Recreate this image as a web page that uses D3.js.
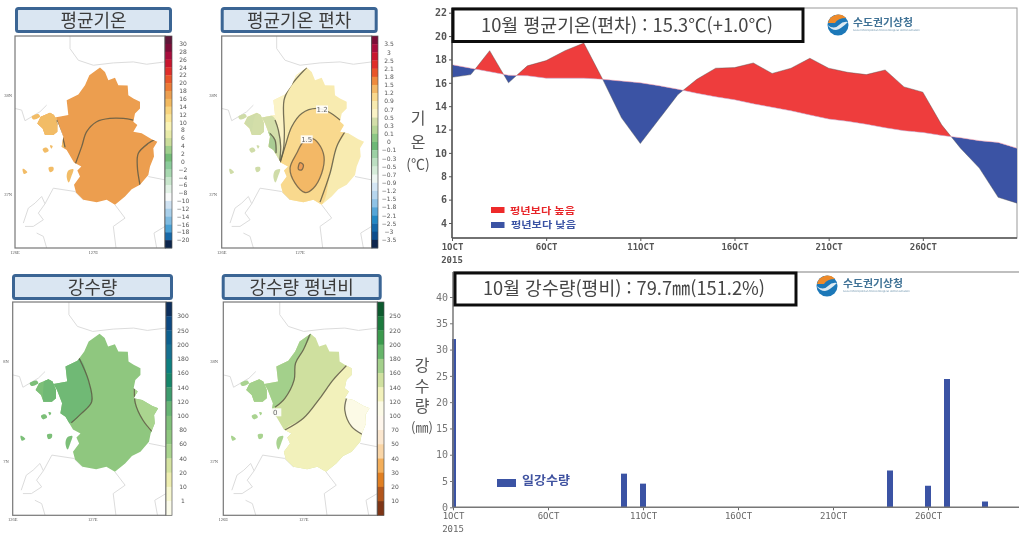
<!DOCTYPE html>
<html lang="ko"><head><meta charset="utf-8">
<script src="https://cdn.jsdelivr.net/npm/d3@7"></script>
<style>
html,body{margin:0;padding:0;background:#fff;overflow:hidden}
svg{display:block}
.ko{font-family:"Noto Sans CJK KR","Noto Sans",sans-serif}
.tick text,.mono{font-family:"DejaVu Sans Mono",monospace}
</style></head><body>
<svg id="c" width="1019" height="534"></svg>
<script>
// ---------- daily data ----------
const days = d3.range(1, 32);
const tempObserved = [16.47,16.7,18.75,16.0,17.45,17.9,18.75,19.4,16.3,13.0,10.8,12.9,15.0,16.3,17.25,17.3,17.7,16.8,17.25,18.1,17.25,16.9,16.7,17.1,15.65,15.2,12.4,10.4,8.7,6.2,5.7];
const tempNormal = [17.55,17.25,16.95,16.65,16.6,16.4,16.4,16.4,16.3,16.15,16.0,15.75,15.45,15.1,14.8,14.55,14.2,13.9,13.6,13.25,12.9,12.7,12.45,12.15,11.9,11.75,11.5,11.3,11.05,10.9,10.4];
const rainDays = [1,10,11,24,26,27,29];
const rainValues = [32,6.4,4.5,7,4.1,24.4,1.1];
const tempTicks = [4,6,8,10,12,14,16,18,20,22];
const rainTicks = [0,5,10,15,20,25,30,35,40];
const dateTicks = [1,6,11,16,21,26];
const dateLabels = ["1OCT","6OCT","11OCT","16OCT","21OCT","26OCT"];

// ---------- map geography, in map-grid units ----------
const mainland = [[300,202],[315,215],[325,240],[345,233],[355,255],[383,256],[385,285],[400,295],[420,305],[420,325],[405,340],[400,365],[412,375],[400,395],[425,400],[455,418],[472,425],[460,445],[462,470],[450,500],[445,525],[420,555],[395,568],[375,590],[345,615],[320,600],[290,607],[250,600],[228,578],[222,555],[240,530],[232,512],[244,500],[222,488],[200,450],[185,440],[190,410],[175,370],[165,352],[205,345],[200,300],[235,283],[255,255],[268,225]];
const ganghwa = [[122,350],[150,338],[162,345],[172,370],[172,395],[160,405],[135,405],[128,385],[112,370],[118,358]];
const islets = [
 [[95,350],[115,342],[120,350],[100,358]],
 [[128,447],[140,443],[146,452],[134,458]],
 [[150,436],[158,438],[154,446]],
 [[68,507],[76,510],[82,517],[72,522]],
 [[146,503],[160,502],[160,512],[150,517]],
 [[205,512],[220,508],[214,530],[206,548],[200,530]]
];
const borders = [
 [[210,107],[210,145],[235,180],[280,195],[340,188],[400,185],[440,192],[495,185]],
 [[45,325],[65,330],[75,362],[120,335],[140,315]],
 [[70,670],[85,625],[105,610],[125,590],[135,612],[115,640],[130,660],[100,680],[75,680]],
 [[135,612],[160,565],[225,575],[250,600]],
 [[110,700],[130,710],[140,745]],
 [[345,615],[375,655],[340,680],[348,745]],
 [[445,530],[495,540]],
 [[495,680],[462,700],[470,745]]
];
// contour lines and band polygons for every panel
const panels = [
 {title:"평균기온", base:"#EC9E4F", isle:"#F2BC66",
  frame:[15,165,36,248], bar:172, box:[15,172,7,33], lon:["126E","127E"], lat:["38N","37N"], latX:8,
  bands:[{c:"#F2BC66",p:[[100,300],[163,340],[172,360],[188,420],[194,445],[100,460]]}],
  lines:[[[400,360],[370,355],[330,355],[290,365],[260,395],[245,440],[225,495],[205,548]],[[465,418],[445,430],[415,460],[412,500],[420,555]],[[170,360],[190,420],[195,442]]],
  labels:["30","28","26","24","22","20","18","16","14","12","10","8","6","4","2","0","−2","−4","−6","−8","−10","−12","−14","−16","−18","−20"],
  colors:["#5E1338","#7B1038","#A8103C","#C9152F","#E02E2A","#E8552B","#EC7A35","#EC9E4F","#F2B95F","#F8D47E","#FAE698","#FBF4B4","#E8EBA8","#CBDD9A","#9FCF8C","#73BB77","#8ACB9A","#A8D8B0","#C8E6CC","#E2F2E6","#F8FAFA","#CFE2F2","#A8CFEA","#7FBBE0","#4AA0D4","#1567A8","#08254E"]},
 {title:"평균기온 편차", base:"#F8EBB0", isle:"#CFDCA8",
  frame:[221.7,371.7,36,248], bar:378, box:[220.7,377.7,7,33], lon:["126E","127E"], lat:["38N","37N"], latX:213,
  bands:[
   {c:"#FBF3C6",p:[[300,200],[250,260],[232,300],[233,400],[230,450],[217,495],[190,495],[190,300]]},
   {c:"#D3DEA9",p:[[200,350],[215,390],[222,440],[218,490],[150,490],[150,340]]},
   {c:"#A9CC93",p:[[185,395],[205,420],[208,460],[190,450]]},
   {c:"#F9D98E",p:[[400,360],[365,335],[330,325],[285,340],[255,380],[235,440],[220,490],[200,620],[340,620],[370,520],[390,440],[415,395]]},
   {c:"#F3B866",p:[[315,415],[335,430],[352,470],[345,520],[320,565],[295,578],[265,550],[250,505],[270,460],[290,425]]},
   {c:"#EE9E56",p:[[280,488],[290,495],[285,510],[275,508]]}],
  lines:[[[300,202],[250,260],[232,300],[233,400],[230,450],[217,495]],[[205,360],[215,390],[222,440],[218,490]],[[190,400],[205,420],[208,460]],[[400,360],[365,335],[330,325],[285,340],[255,380],[235,440],[220,490]],[[415,395],[390,440],[370,520],[340,607]]],
  closed:[[[315,415],[335,430],[352,470],[345,520],[320,565],[295,578],[265,550],[250,505],[270,460],[290,425]],[[280,488],[290,495],[285,510],[275,508]]],
  tags:[{t:"1.2",at:[346,328]},{t:"1.5",at:[300,418]}],
  labels:["3.5","3","2.5","2.1","1.8","1.5","1.2","0.9","0.7","0.5","0.3","0.1","0","−0.1","−0.3","−0.5","−0.7","−0.9","−1.2","−1.5","−1.8","−2.1","−2.5","−3","−3.5"],
  colors:["#7B1038","#A8103C","#C9152F","#E02E2A","#E8552B","#EE8A3E","#F3B866","#F9D98E","#F8EBB0","#FBF3C6","#D3DEA9","#B5D596","#8CC785","#6DB877","#9CD0A4","#BCDFC2","#D5ECD9","#EDF6F2","#D4E6F4","#B6D6EE","#8FC3E6","#55A6D8","#2488C4","#1567A8","#0F4D8C","#08254E"]},
 {title:"강수량", base:"#8FC77F", isle:"#7BBF78",
  frame:[12.7,166,302,515.3], bar:172, box:[12,173,274,300], lon:["126E","127E"], lat:["8N","7N"], latX:6,
  bands:[
   {c:"#6FB974",p:[[240,275],[267,340],[277,405],[247,440],[217,468],[150,480],[150,300],[200,290]]},
   {c:"#AAD58F",p:[[402,365],[405,410],[427,460],[456,497],[490,500],[490,380]]}],
  lines:[[[240,275],[267,340],[277,405],[247,440],[217,468]],[[402,365],[405,410],[427,460],[456,497]]],
  labels:["300","250","200","180","160","140","120","100","80","60","40","20","10","1"],
  colors:["#0B2F5C","#0E4A82","#10608F","#146F90","#0F7F80","#17866A","#3E9B6E","#66B473","#7FC07A","#8FC77F","#AAD58F","#D5E3A0","#EEEEB0","#F7F7D0","#FBFBEA"]},
 {title:"강수량 평년비", base:"#CFE09F", isle:"#A9D390",
  frame:[223.3,377.3,302,515.3], bar:384, box:[221.7,381.7,274,300], lon:["126E","127E"], lat:["38N","37N"], latX:214,
  bands:[
   {c:"#A3D08B",p:[[300,198],[279,250],[256,290],[252,340],[225,395],[196,422],[100,470],[100,250]]},
   {c:"#F2F1BB",p:[[405,297],[366,340],[327,395],[279,455],[225,490],[190,640],[490,640],[490,297]]},
   {c:"#FCFAE6",p:[[405,395],[400,430],[420,480],[451,503],[490,503],[490,395]]}],
  lines:[[[300,198],[279,250],[256,290],[252,340],[225,395],[196,422]],[[405,297],[366,340],[327,395],[279,455],[225,490]],[[405,395],[400,430],[420,480],[451,503]]],
  tags:[{t:"0",at:[197,437]}],
  labels:["250","220","200","180","160","140","120","100","70","50","40","30","20","10"],
  colors:["#0B5A2E","#1A7A3C","#3A9A4E","#66B56A","#A3D08B","#CFE09F","#F2F1BB","#FCFAE6","#FEF6EC","#FBE7CF","#F9D5A6","#F3AE5A","#E07F22","#B2561A","#7E3512"]}
];

const svg = d3.select("#c");
const defs = svg.append("defs");
function blur(id,s){defs.append("filter").attr("id",id).attr("x","-2%").attr("y","-2%").attr("width","104%").attr("height","104%").append("feGaussianBlur").attr("stdDeviation",s);}
blur("soft",0.45); blur("softer",0.65);
const root = svg.append("g").attr("filter","url(#soft)");
const mapsRoot = svg.append("g").attr("filter","url(#softer)");

// ---------- maps ----------
panels.forEach((p,i)=>{
  const [x0,x1,y0,y1] = p.frame;
  const sx = d3.scaleLinear().domain([45,495]).range([x0,x1]);
  const sy = d3.scaleLinear().domain([107,745]).range([y0,y1]);
  const line = d3.line().x(d=>sx(d[0])).y(d=>sy(d[1]));
  const smooth = d3.line().x(d=>sx(d[0])).y(d=>sy(d[1])).curve(d3.curveCatmullRom);
  const smoothC = d3.line().x(d=>sx(d[0])).y(d=>sy(d[1])).curve(d3.curveCatmullRomClosed);
  const g = mapsRoot.append("g");
  // title
  g.append("rect").attr("x",p.box[0]+1.5).attr("y",p.box[2]+1.5).attr("width",p.box[1]-p.box[0]-3).attr("height",p.box[3]-p.box[2]-3)
   .attr("rx",2).attr("fill","#DAE6F2").attr("stroke","#3A6594").attr("stroke-width",3);
  g.append("text").attr("class","ko").attr("x",(p.box[0]+p.box[1])/2).attr("y",(p.box[2]+p.box[3])/2+6.5)
   .attr("text-anchor","middle").attr("font-size",18).attr("fill","#3b3b3b").text(p.title);
  // frame
  g.append("rect").attr("x",x0).attr("y",y0).attr("width",x1-x0).attr("height",y1-y0).attr("fill","#fff");
  const cid = "clip"+i;
  const cp = defs.append("clipPath").attr("id",cid);
  cp.append("rect").attr("x",x0).attr("y",y0).attr("width",x1-x0).attr("height",y1-y0);
  g.append("g").attr("clip-path",`url(#${cid})`).selectAll("path").data(borders).join("path")
   .attr("d",line).attr("fill","none").attr("stroke","#dcdcdc").attr("stroke-width",1);
  // land
  const lid = "land"+i;
  const lp = defs.append("clipPath").attr("id",lid);
  lp.append("path").attr("d",line(mainland)+"Z");
  lp.append("path").attr("d",line(ganghwa)+"Z");
  const land = g.append("g").attr("clip-path",`url(#${lid})`);
  land.append("rect").attr("x",x0).attr("y",y0).attr("width",x1-x0).attr("height",y1-y0).attr("fill",p.base);
  land.append("path").attr("d",line(ganghwa)+"Z").attr("fill",p.isle);
  land.selectAll("path.band").data(p.bands).join("path").attr("class","band")
   .attr("d",d=>smoothC(d.p)).attr("fill",d=>d.c);
  land.selectAll("path.ct").data(p.lines).join("path").attr("class","ct").attr("d",smooth)
   .attr("fill","none").attr("stroke","#5f5a45").attr("stroke-width",1.3).attr("opacity",.85);
  land.selectAll("path.cc").data(p.closed||[]).join("path").attr("class","cc").attr("d",smoothC)
   .attr("fill","none").attr("stroke","#6f6048").attr("stroke-width",1.3).attr("opacity",.85);
  g.selectAll("path.isl").data(islets).join("path").attr("class","isl").attr("d",d=>smoothC(d)).attr("fill",p.isle);
  (p.tags||[]).forEach(t=>{
    g.append("rect").attr("x",sx(t.at[0])-6).attr("y",sy(t.at[1])-4).attr("width",12).attr("height",8).attr("fill","#fff").attr("opacity",.9);
    g.append("text").attr("x",sx(t.at[0])).attr("y",sy(t.at[1])+2.5).attr("text-anchor","middle").attr("font-size",7)
     .attr("font-family","DejaVu Sans").attr("fill","#666").text(t.t);
  });
  g.append("rect").attr("x",x0).attr("y",y0).attr("width",x1-x0).attr("height",y1-y0).attr("fill","none").attr("stroke","#777").attr("stroke-width",1.2);
  // colour bar
  const cb = d3.scaleBand().domain(d3.range(p.colors.length)).range([y0,y1]);
  g.selectAll("rect.cell").data(p.colors).join("rect").attr("class","cell").attr("x",x1).attr("width",p.bar-x1)
   .attr("y",(d,j)=>cb(j)).attr("height",cb.bandwidth()+.3).attr("fill",d=>d);
  g.append("rect").attr("x",x1).attr("y",y0).attr("width",p.bar-x1).attr("height",y1-y0).attr("fill","none").attr("stroke","#555").attr("stroke-width",.7);
  g.selectAll("text.cbl").data(p.labels).join("text").attr("class","cbl").attr("x",p.bar+11).attr("y",(d,j)=>cb(j+1)+2.2)
   .attr("text-anchor","middle").attr("font-size",6).attr("font-family","DejaVu Sans").attr("fill","#555").text(d=>d);
  // lon / lat labels
  const tiny = {"font-size":4.5,"font-family":"Liberation Serif","fill":"#555"};
  const put = (x,y,t,a)=>{const s=g.append("text").attr("x",x).attr("y",y).attr("text-anchor",a).text(t);
    Object.entries(tiny).forEach(([k,v])=>s.attr(k,v));};
  put(x0,y1+6,p.lon[0],"middle");
  put(sx(280),y1+6,p.lon[1],"middle");
  put(p.latX,sy(285)+1.5,p.lat[0],"middle");
  put(p.latX,sy(585)+1.5,p.lat[1],"middle");
});

// ---------- temperature chart ----------
const tX = d3.scaleLinear().domain([1,31]).range([452,1017]);
const tY = d3.scaleLinear().domain([22,4]).range([12.7,223]);
const tTop = 8, tBot = 238;
const t = root.append("g");
const between = d3.area().x((d,i)=>tX(days[i])).y0((d,i)=>tY(tempNormal[i])).y1((d,i)=>tY(tempObserved[i]));
const above = d3.area().x((d,i)=>tX(days[i])).y0(tTop).y1((d,i)=>tY(tempNormal[i]));
const below = d3.area().x((d,i)=>tX(days[i])).y0(tBot).y1((d,i)=>tY(tempNormal[i]));
defs.append("clipPath").attr("id","abv").append("path").attr("d",above(days));
defs.append("clipPath").attr("id","blw").append("path").attr("d",below(days));
t.append("rect").attr("x",452).attr("y",tTop).attr("width",565).attr("height",tBot-tTop).attr("fill","none").attr("stroke","#999").attr("stroke-width",1);
t.append("path").attr("d",between(days)).attr("fill","#EE3D3C").attr("clip-path","url(#abv)");
t.append("path").attr("d",between(days)).attr("fill","#3B53A4").attr("clip-path","url(#blw)");
t.append("path").attr("d",d3.line().x((d,i)=>tX(days[i])).y((d,i)=>tY(tempObserved[i]))(days)).attr("fill","none").attr("stroke","#555").attr("stroke-width",.7).attr("opacity",.6);
t.append("path").attr("d",d3.line().x((d,i)=>tX(days[i])).y((d,i)=>tY(tempNormal[i]))(days)).attr("fill","none").attr("stroke","#E8A0B8").attr("stroke-width",.7).attr("opacity",.7);

function styleAxis(g,color,weight,size){
  g.select(".domain").remove();
  g.selectAll("line").attr("stroke",color).attr("stroke-width",1);
  g.selectAll("text").attr("fill",color).attr("font-size",size).attr("font-weight",weight).attr("font-family","DejaVu Sans Mono");
}
const tAxisY = t.append("g").attr("transform","translate(452,0)").call(d3.axisLeft(tY).tickValues(tempTicks).tickSize(3).tickPadding(2).tickFormat(d3.format("d")));
styleAxis(tAxisY,"#555","bold",10);
const tAxisX = t.append("g").attr("transform",`translate(0,${tBot})`).call(d3.axisBottom(tX).tickValues(dateTicks).tickSize(3).tickPadding(3).tickFormat((d,i)=>dateLabels[i]));
styleAxis(tAxisX,"#555","bold",9);
t.append("line").attr("x1",452).attr("x2",452).attr("y1",tTop).attr("y2",tBot).attr("stroke","#555").attr("stroke-width",1.5);
t.append("line").attr("x1",452).attr("x2",1017).attr("y1",tBot).attr("y2",tBot).attr("stroke","#555").attr("stroke-width",1.5);
t.append("text").attr("class","mono").attr("x",452).attr("y",263).attr("text-anchor","middle").attr("font-size",9).attr("font-weight","bold").attr("fill","#555").text("2015");

function titleBox(par,x0,x1,y0,y1,txt,tx,ty,len){
  par.append("rect").attr("x",x0).attr("y",y0).attr("width",x1-x0).attr("height",y1-y0).attr("fill","#fff").attr("stroke","#111").attr("stroke-width",3);
  par.append("text").attr("class","ko").attr("x",tx).attr("y",ty).attr("font-size",18).attr("fill","#444").attr("textLength",len).attr("lengthAdjust","spacingAndGlyphs").text(txt);
}
titleBox(t,453,803,9,41.5,"10월 평균기온(편차) : 15.3℃(+1.0℃)",481,32,292);
function vert(par,x,ys,chars,size){
  par.selectAll(null).data(chars).join("text").attr("class","ko").attr("x",x).attr("y",(d,i)=>ys[i]).attr("text-anchor","middle")
   .attr("font-size",(d,i)=>size[i]).attr("fill","#555").text(d=>d);
}
vert(t,418,[124,148,169],["기","온","(℃)"],[16,16,14]);
// legend
t.append("rect").attr("x",491).attr("y",207).attr("width",13.5).attr("height",6).attr("fill","#EE2A2A");
t.append("rect").attr("x",491).attr("y",222).attr("width",13.5).attr("height",6).attr("fill","#3B53A4");
t.append("text").attr("class","ko").attr("x",510).attr("y",214).attr("font-size",9.5).attr("font-weight","700").attr("fill","#E8262A").attr("textLength",65).attr("lengthAdjust","spacingAndGlyphs").text("평년보다 높음");
t.append("text").attr("class","ko").attr("x",511).attr("y",228).attr("font-size",9.5).attr("font-weight","700").attr("fill","#3B53A4").attr("textLength",65).attr("lengthAdjust","spacingAndGlyphs").text("평년보다 낮음");

// ---------- rainfall chart ----------
const rX = d3.scaleLinear().domain([1,31]).range([453,1023]);
const rY = d3.scaleLinear().domain([0,40]).range([507.3,297]);
const r = root.append("g");
defs.append("clipPath").attr("id","rplot").append("rect").attr("x",452).attr("y",272).attr("width",567).attr("height",236);
r.append("g").attr("clip-path","url(#rplot)").selectAll("rect").data(rainDays).join("rect")
 .attr("x",d=>rX(d)-3).attr("width",6).attr("y",(d,i)=>rY(rainValues[i])).attr("height",(d,i)=>rY(0)-rY(rainValues[i])).attr("fill","#3B53A4");
const rAxisY = r.append("g").attr("transform","translate(453,0)").call(d3.axisLeft(rY).tickValues(rainTicks).tickSize(3).tickPadding(2).tickFormat(d3.format("d")));
styleAxis(rAxisY,"#777","normal",10);
const rAxisX = r.append("g").attr("transform","translate(0,507.3)").call(d3.axisBottom(rX).tickValues(dateTicks).tickSize(3).tickPadding(2).tickFormat((d,i)=>dateLabels[i]));
styleAxis(rAxisX,"#666","normal",9);
r.append("line").attr("x1",453).attr("x2",453).attr("y1",272).attr("y2",507.3).attr("stroke","#777").attr("stroke-width",1.5);
r.append("line").attr("x1",453).attr("x2",1019).attr("y1",507.3).attr("y2",507.3).attr("stroke","#777").attr("stroke-width",1.5);
r.append("line").attr("x1",453).attr("x2",1019).attr("y1",272).attr("y2",272).attr("stroke","#aaa").attr("stroke-width",1.5);
r.append("text").attr("class","mono").attr("x",453).attr("y",532).attr("text-anchor","middle").attr("font-size",9).attr("fill","#666").text("2015");
titleBox(r,455,796,273,305,"10월 강수량(평비) : 79.7㎜(151.2%)",483,295,282);
vert(r,422,[371,392,412,432],["강","수","량","(㎜)"],[16,16,16,13]);
r.append("rect").attr("x",497).attr("y",479).attr("width",19).attr("height",8).attr("fill","#3B53A4");
r.append("text").attr("class","ko").attr("x",522).attr("y",485).attr("font-size",12).attr("font-weight","700").attr("fill","#3F52A0").attr("textLength",48).attr("lengthAdjust","spacingAndGlyphs").text("일강수량");

// ---------- logos ----------
function logo(par,cx,cy,tx,ty){
  const g = par.append("g");
  g.append("circle").attr("cx",cx).attr("cy",cy).attr("r",10.5).attr("fill","#1E78B8");
  g.append("path").attr("d",`M${cx-10} ${cy-2} A10.5 10.5 0 0 1 ${cx+8} ${cy-7} Q${cx} ${cy-7} ${cx-3} ${cy-2} Z`).attr("fill","#EE8A2A");
  g.append("path").attr("d",`M${cx-10.5} ${cy} Q${cx-4} ${cy+5} ${cx+1} ${cy} Q${cx+5} ${cy-4} ${cx+10} ${cy-3} Q${cx+3} ${cy+4} ${cx-2} ${cy+5} Q${cx-7} ${cy+5} ${cx-10.5} ${cy}Z`).attr("fill","#dbe9f2");
  g.append("text").attr("class","ko").attr("x",tx).attr("y",ty).attr("font-size",10).attr("font-weight","700").attr("fill","#3F7296").attr("textLength",60).attr("lengthAdjust","spacingAndGlyphs").text("수도권기상청");
  g.append("text").attr("x",tx).attr("y",ty+4.5).attr("font-size",2.6).attr("font-family","DejaVu Sans").attr("fill","#6f94ad").attr("textLength",67).attr("lengthAdjust","spacingAndGlyphs").text("Seoul Metropolitan Meteorological Administration");
}
logo(root,838,25,853,26);
logo(root,827,286,843,287);
</script>
</body></html>
